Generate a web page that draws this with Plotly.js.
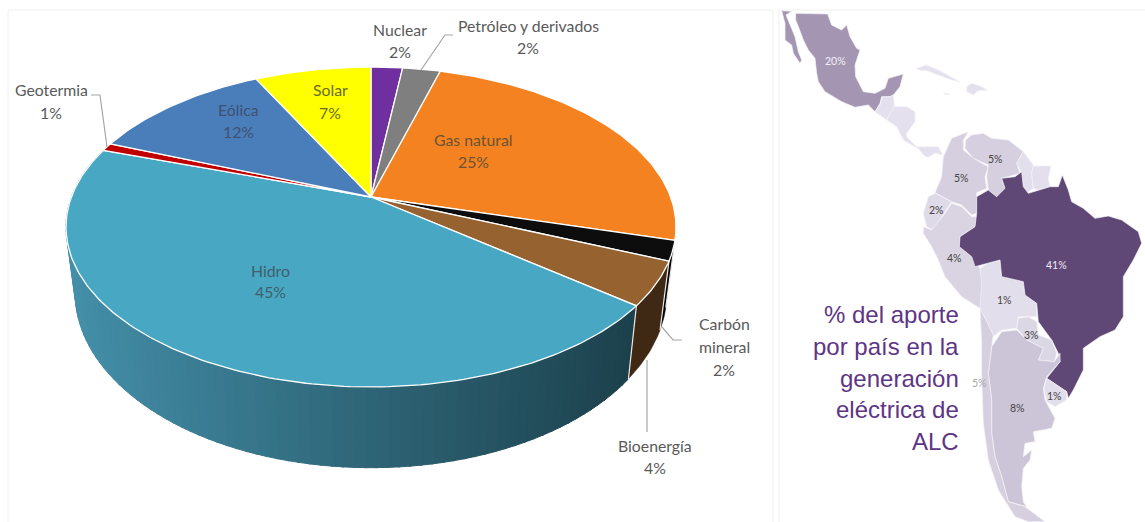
<!DOCTYPE html>
<html><head><meta charset="utf-8">
<script src="https://cdn.plot.ly/plotly-3.0.1.min.js"></script>
<style>html,body{margin:0;padding:0;background:#fff;overflow:hidden}#c{width:1145px;height:522px}</style>
</head><body><div id="c"></div>
<script>
// ---------- data ----------
const sources = ["Nuclear","Petróleo y derivados","Gas natural","Carbón mineral","Bioenergía","Hidro","Geotermia","Eólica","Solar"];
const sourceValues = [2.0,2.4,24.9,2.0,4.4,44.5,0.8,11.6,7.4];
const sourceLabels = ["2%","2%","25%","2%","4%","45%","1%","12%","7%"];
const sourceColors = ["#702F9F","#7F7F7F","#F58220","#0D0D0D","#956230","#48A7C3","#C00000","#4A7EBB","#FFFF00"];

const mapTitleLines = ["% del aporte","por país en la","generación","eléctrica de","ALC"];
const countries = ["México","Baja California","Guatemala-Belice","Centroamérica","Panamá","Cuba","Jamaica","La Española","Colombia","Venezuela","Guyana","Surinam","Ecuador","Perú","Bolivia","Brasil","Paraguay","Argentina","Chile","Uruguay"];
const countryShares = [20,20,0.5,0.5,0.5,0.3,0.3,0.5,5,5,0.8,0.8,2,4,1,41,3,8,5,1];
const outlines = [
 [[62,40],[130,40],[158,42],[170,75],[200,90],[215,75],[225,110],[245,145],[255,150],[240,195],[242,230],[265,275],[300,280],[330,265],[340,235],[385,222],[375,260],[355,285],[345,290],[320,290],[315,310],[300,335],[280,315],[240,322],[200,305],[150,275],[130,245],[125,220],[120,175],[100,150],[85,120],[72,85],[62,60]],
 [[20,32],[50,34],[33,45],[45,75],[60,110],[70,155],[80,180],[75,190],[55,160],[50,135],[30,120],[30,70]],
 [[320,292],[345,290],[355,285],[358,320],[345,340],[335,360],[300,335],[318,310]],
 [[345,340],[358,320],[395,320],[420,335],[420,365],[395,400],[395,410],[420,435],[432,448],[385,420],[365,380],[335,360]],
 [[425,440],[460,440],[490,440],[503,465],[480,460],[460,472],[448,468]],
 [[425,205],[455,195],[490,210],[525,230],[555,245],[530,240],[490,225],[455,212],[430,210]],
 [[505,278],[525,282],[515,285]],
 [[575,260],[590,250],[615,258],[637,270],[610,272],[595,285],[575,275]],
 [[580,395],[565,420],[565,450],[590,470],[620,490],[640,500],[630,530],[635,565],[605,578],[605,640],[590,645],[560,615],[530,605],[480,578],[500,530],[505,470],[530,415],[575,395]],
 [[590,405],[625,400],[650,415],[700,420],[745,455],[725,490],[735,520],[680,535],[690,565],[665,590],[640,570],[635,530],[640,495],[595,475],[570,445],[572,420]],
 [[745,455],[775,495],[770,520],[775,565],[755,580],[745,560],[740,520],[725,490]],
 [[775,498],[828,498],[820,535],[825,560],[790,570],[775,565],[770,520]],
 [[480,580],[530,605],[500,650],[475,690],[455,680],[445,640],[460,590]],
 [[445,680],[470,690],[510,640],[530,610],[560,620],[590,650],[605,650],[600,680],[555,710],[553,740],[590,770],[615,805],[625,850],[620,910],[615,925],[560,890],[510,830],[490,780],[470,740],[445,700]],
 [[615,805],[640,790],[675,780],[680,830],[745,845],[750,885],[785,910],[785,950],[730,950],[725,985],[680,990],[655,1010],[615,925],[620,850]],
 [[605,590],[640,570],[665,590],[690,565],[680,535],[720,530],[740,515],[745,560],[760,580],[790,570],[825,560],[850,560],[862,525],[880,570],[890,605],[925,625],[960,655],[1000,648],[1040,660],[1090,695],[1100,730],[1075,780],[1045,830],[1045,880],[1045,950],[1020,990],[975,1010],[925,1045],[925,1110],[895,1170],[880,1195],[875,1175],[815,1135],[855,1085],[850,1060],[830,1020],[790,965],[785,910],[750,885],[745,845],[680,830],[675,780],[640,790],[600,800],[590,770],[553,740],[555,710],[600,680],[605,640]],
 [[730,955],[760,950],[785,965],[790,1005],[830,1020],[845,1060],[838,1085],[790,1080],[805,1045],[755,1020],[725,985]],
 [[650,1040],[680,995],[725,990],[755,1020],[805,1045],[790,1080],[838,1085],[855,1060],[855,1085],[815,1130],[805,1165],[810,1200],[840,1255],[830,1285],[775,1295],[780,1325],[750,1330],[745,1370],[770,1350],[765,1380],[745,1405],[740,1460],[745,1505],[755,1520],[700,1505],[680,1430],[660,1370],[650,1300],[650,1200],[640,1120]],
 [[615,925],[655,1005],[650,1040],[640,1120],[650,1200],[650,1300],[660,1370],[680,1430],[700,1505],[750,1520],[810,1565],[760,1565],[720,1550],[670,1470],[640,1380],[625,1270],[620,1130],[620,1030]],
 [[815,1135],[875,1175],[875,1200],[840,1220],[815,1205],[807,1165]]
];
const mapLabels = ["20%","5%","5%","2%","4%","41%","1%","3%","5%","8%","1%"];
const mapLabelX = [182,660,560,485,537,845,688,768,614,728,838];
const mapLabelY = [182,478,533,630,775,795,900,1005,1148,1225,1188];
const mapLabelColors = ["#f2eff6","#444","#444","#444","#444","#efeaf5","#444","#444","#a8a8a8","#444","#444"];

// ---------- projection of the tilted pie ----------
const Q = 0.1875;
function proj(share, lower){
  const t = 2*Math.PI*share/100, u = Math.sin(t), v = Math.cos(t), d = 1+Q*v;
  return lower ? [371+290.6*u/d,(260-120*v)/d] : [371+299.6*u/d,(197-117.4*v)/d];
}
function arc(a,b,lower){
  const out=[], n=Math.max(2,Math.ceil(Math.abs(b-a)*3.6));
  for(let i=0;i<=n;i++) out.push(proj(a+(b-a)*i/n,lower));
  return out;
}
function poly(pts,fill,line,w,xa,ya){
  return {type:'scatter',mode:'lines',x:pts.map(p=>p[0]),y:pts.map(p=>p[1]),fill:'toself',fillcolor:fill,
    line:{color:line,width:w},hoverinfo:'skip',showlegend:false,xaxis:xa||'x',yaxis:ya||'y'};
}
function mix(a,b,t){return 'rgb('+a.map((c,i)=>Math.round(c+(b[i]-c)*t)).join(',')+')';}

const traces=[];
const starts=[]; sourceValues.reduce((s,v)=>{starts.push(s);return s+v;},0);
const hidro=sources.indexOf("Hidro"), bio=sources.indexOf("Bioenergía"), coal=sources.indexOf("Carbón mineral");

// hydro wall: shaded strips
const hs=starts[hidro], he=hs+sourceValues[hidro], stepS=0.5;
for(let s=hs;s<he;s+=stepS){
  const e=Math.min(he,s+stepS+0.1);
  const top=arc(s,e,false), low=arc(s,e,true).reverse();
  const f=Math.max(0,Math.min(1,(proj(s,true)[0]-70)/(630-70)));
  const c=mix([68,144,170],[28,65,76],f);
  traces.push(poly(top.concat(low),c,c,1));
}
// other walls
[[bio,"#3F2814"],[coal,"#050505"]].forEach(([i,c])=>{
  const s=starts[i], e=s+sourceValues[i];
  traces.push(poly(arc(s,e,false).concat(arc(s,e,true).reverse()),c,c,0.5));
});
// wall edges
[starts[hidro],starts[bio],starts[coal]].forEach(s=>{
  const a=proj(s,false), b=proj(s,true);
  traces.push({type:'scatter',mode:'lines',x:[a[0],b[0]],y:[a[1],b[1]],line:{color:'#e8e8e8',width:1.2},hoverinfo:'skip',showlegend:false});
});
// top faces
sources.forEach((n,i)=>{
  const s=starts[i], e=s+sourceValues[i];
  traces.push(poly([[371,197]].concat(arc(s,e,false),[[371,197]]),sourceColors[i],'#ffffff',1.3));
});
// map
function ramp(sh){return mix([230,226,238],[95,71,118],sh/41);}
outlines.forEach((o,i)=>{
  traces.push(poly(o.concat([o[0]]),ramp(countryShares[i]),'#f4f2f7',0.7,'x2','y2'));
});

// ---------- annotations ----------
const txt='#595959';
const ann=[];
function lab(x,ys,lines,color){
  lines.forEach((t,i)=>ann.push({x,y:ys[i],text:t,xref:'x',yref:'y',showarrow:false,xanchor:'center',yanchor:'middle',
    font:{family:'Lato, sans-serif',size:15.8,color:color||txt}}));
}
lab(400,[29,51],[sources[0],sourceLabels[0]]);
lab(528,[25,47],[sources[1],sourceLabels[1]]);
lab(473,[139,161],[sources[2],sourceLabels[2]],'#6b5233');
lab(724,[323,346,369],["Carbón","mineral",sourceLabels[3]]);
lab(655,[445,467],[sources[4],sourceLabels[4]]);
lab(270,[270,291],[sources[5],sourceLabels[5]],'#3f5f6c');
lab(51,[89,112],[sources[6],sourceLabels[6]]);
lab(238,[109,131],[sources[7],sourceLabels[7]],'#3f5170');
lab(330,[89,112],[sources[8],sourceLabels[8]],'#6b6b20');
mapTitleLines.forEach((t,i)=>ann.push({x:961,y:[314,346,378,409,441][i],text:t,xref:'x',yref:'y',showarrow:false,xanchor:'right',yanchor:'middle',font:{family:'Liberation Sans, Arial, sans-serif',size:24,color:'#5E3585'}}));
mapLabels.forEach((t,i)=>ann.push({x:mapLabelX[i],y:mapLabelY[i],text:t,xref:'x2',yref:'y2',showarrow:false,font:{family:'Lato, sans-serif',size:10.5,color:mapLabelColors[i]}}));

function seg(pts){return {type:'path',xref:'x',yref:'y',path:'M'+pts.map(p=>p.join(',')).join(' L'),line:{color:'#A6A6A6',width:1.2},layer:'above'};}
const frame='#f0f0f0';
const shapes=[
 seg([[91,95],[100,95],[107,147]]),
 seg([[453,35],[445,35],[421,70]]),
 seg([[662,327],[673,340],[682,340]]),
 seg([[647,360],[647,432]]),
 {type:'path',xref:'x',yref:'y',path:'M8,522 L8,10 L773,10 L773,522',line:{color:frame,width:1},layer:'below'},
 {type:'path',xref:'x',yref:'y',path:'M779,522 L779,10 L1145,10',line:{color:frame,width:1},layer:'below'}
];

const noAxis={visible:false,fixedrange:true,showgrid:false,zeroline:false};
Plotly.newPlot('c',traces,{
  width:1145,height:522,margin:{l:0,r:0,t:0,b:0},paper_bgcolor:'#fff',plot_bgcolor:'rgba(0,0,0,0)',showlegend:false,
  xaxis:Object.assign({range:[0,1145],domain:[0,1]},noAxis),
  yaxis:Object.assign({range:[522,0],domain:[0,1]},noAxis),
  xaxis2:Object.assign({range:[0,1110],domain:[775/1145,1],anchor:'y2'},noAxis),
  yaxis2:Object.assign({range:[1566,0],domain:[0,1],anchor:'x2'},noAxis),
  annotations:ann,shapes:shapes
},{displayModeBar:false,staticPlot:true});
</script></body></html>
